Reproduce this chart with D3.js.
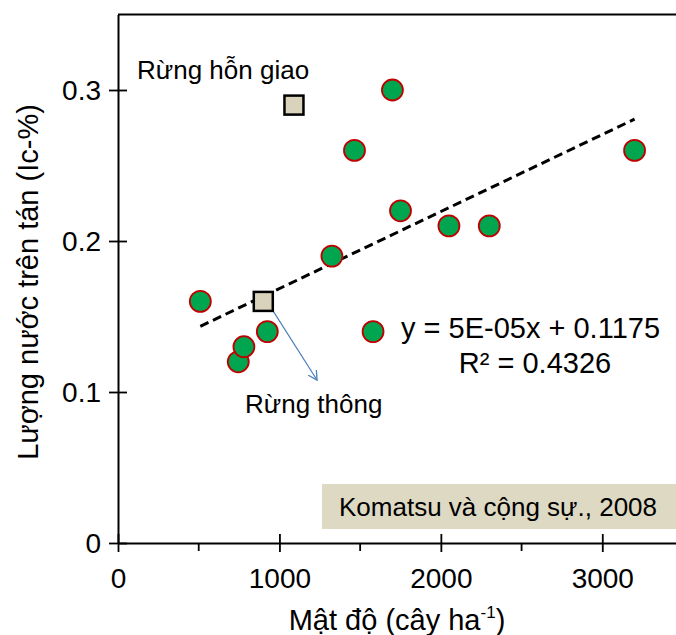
<!DOCTYPE html>
<html><head><meta charset="utf-8">
<script src="https://cdn.jsdelivr.net/npm/d3@7"></script>
<style>body{margin:0;background:#fff}svg{display:block;font-family:"Liberation Sans",Arial,sans-serif}</style>
</head><body>
<svg id="c" width="676" height="635"></svg>
<script>
// Data
const densityX = [510, 745, 780, 925, 1325, 1465, 1580, 1700, 1750, 2050, 2300, 3200];
const waterY   = [0.16, 0.12, 0.13, 0.14, 0.19, 0.26, 0.14, 0.30, 0.22, 0.21, 0.21, 0.26];
const squareX = [1090, 900];
const squareY = [0.29, 0.16];
const squareLabels = ["Rừng hỗn giao", "Rừng thông"];
const trendSlope = 5.1e-5, trendIntercept = 0.1175;
const trendRange = [510, 3200];
const xTicks = [0, 1000, 2000, 3000];
const xMinorTicks = [500, 1500, 2500];
const yTicks = [0, 0.1, 0.2, 0.3];

const svg = d3.select("#c");
const x = d3.scaleLinear().domain([0, 3500]).range([118, 683]);
const y = d3.scaleLinear().domain([0, 0.35]).range([543, 14.5]);

// top border
svg.append("line").attr("x1", 118).attr("x2", 676).attr("y1", y(0.35)).attr("y2", y(0.35))
  .attr("stroke", "#000").attr("stroke-width", 2);

// Komatsu box
svg.append("rect").attr("x", 322).attr("y", 484).attr("width", 360).attr("height", 45).attr("fill", "#ddd9c3");
svg.append("text").attr("x", 339).attr("y", 516).attr("font-size", 26).attr("fill", "#000")
  .text("Komatsu và cộng sự., 2008");

// axes
const xAxis = svg.append("g").attr("transform", `translate(0,${y(0)})`)
  .call(d3.axisBottom(x).tickValues(xTicks).tickFormat(d3.format("d")).tickSize(9).tickSizeOuter(0));
xAxis.select(".domain").attr("stroke-width", 2);
xAxis.selectAll(".tick line").attr("y1", -9).attr("stroke-width", 1.8);
xAxis.selectAll(".tick text").attr("font-size", 28).attr("y", 45).attr("dy", 0)
  .attr("font-family", "Liberation Sans, Arial").attr("fill", "#000");
xAxis.selectAll(".minor").data(xMinorTicks).enter().append("line")
  .attr("x1", d => x(d)).attr("x2", d => x(d)).attr("y1", 0).attr("y2", 8)
  .attr("stroke", "#000").attr("stroke-width", 1.8);

const yAxis = svg.append("g").attr("transform", `translate(${x(0)},0)`)
  .call(d3.axisLeft(y).tickValues(yTicks).tickFormat(d => d === 0 ? "0" : d3.format(".1f")(d)).tickSize(9).tickSizeOuter(0));
yAxis.select(".domain").attr("stroke-width", 2);
yAxis.selectAll(".tick line").attr("x1", 9).attr("stroke-width", 1.8);
yAxis.selectAll(".tick text").attr("font-size", 28).attr("x", -17).attr("dy", "0.35em")
  .attr("font-family", "Liberation Sans, Arial").attr("fill", "#000");

// axis titles
const xt = svg.append("text").attr("x", 397).attr("y", 630).attr("text-anchor", "middle").attr("font-size", 29);
xt.append("tspan").text("Mật độ (cây ha");
xt.append("tspan").attr("font-size", 17).attr("dy", -12).text("-1");
xt.append("tspan").attr("dy", 12).text(")");
svg.append("text").attr("transform", "translate(38,282) rotate(-90)").attr("text-anchor", "middle")
  .attr("font-size", 29).text("Lượng nước trên tán (Ic-%)");

// trend line
svg.append("line")
  .attr("x1", x(trendRange[0])).attr("y1", y(trendSlope * trendRange[0] + trendIntercept))
  .attr("x2", x(trendRange[1])).attr("y2", y(trendSlope * trendRange[1] + trendIntercept))
  .attr("stroke", "#000").attr("stroke-width", 3).attr("stroke-dasharray", "9,5");

// arrow
svg.append("defs").append("marker").attr("id", "ah").attr("viewBox", "0 0 10 10")
  .attr("refX", 9).attr("refY", 5).attr("markerWidth", 10).attr("markerHeight", 10)
  .attr("markerUnits", "userSpaceOnUse").attr("orient", "auto")
  .append("path").attr("d", "M0,0 L9,5 L0,10").attr("fill", "none").attr("stroke", "#4a7ebb").attr("stroke-width", 1.3);
svg.append("line").attr("x1", x(squareX[1]) + 5).attr("y1", y(squareY[1]) + 2)
  .attr("x2", 317).attr("y2", 380).attr("stroke", "#4a7ebb").attr("stroke-width", 1.2)
  .attr("marker-end", "url(#ah)");

// circles
svg.selectAll(".pt").data(densityX).enter().append("circle")
  .attr("cx", d => x(d)).attr("cy", (d, i) => y(waterY[i])).attr("r", 10.5)
  .attr("fill", "#00a550").attr("stroke", "#c00000").attr("stroke-width", 1.8);

// squares
svg.selectAll(".sq").data(squareX).enter().append("rect")
  .attr("x", d => x(d) - 9.5).attr("y", (d, i) => y(squareY[i]) - 9.5).attr("width", 19).attr("height", 19)
  .attr("fill", "#d8d3ba").attr("stroke", "#000").attr("stroke-width", 2.5);

// labels
svg.append("text").attr("x", 137).attr("y", 79).attr("font-size", 26).text(squareLabels[0]);
svg.append("text").attr("x", 245).attr("y", 413).attr("font-size", 26).text(squareLabels[1]);

// equation
svg.append("text").attr("x", 401).attr("y", 338).attr("font-size", 29).text("y = 5E-05x + 0.1175");
svg.append("text").attr("x", 535).attr("y", 373).attr("text-anchor", "middle").attr("font-size", 29).text("R² = 0.4326");
</script>
</body></html>
